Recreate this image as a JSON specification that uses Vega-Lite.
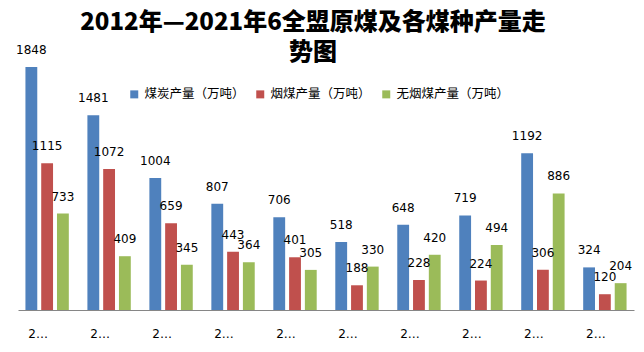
{
  "$schema": "https://vega.github.io/schema/vega-lite/v6.json",
  "width": 616,
  "height": 265,
  "autosize": "none",
  "padding": {"left": 18, "top": 45, "right": 10, "bottom": 42},
  "background": "white",
  "title": {
    "text": ["2012年—2021年6全盟原煤及各煤种产量走", "势图"],
    "font": "Noto Sans CJK SC",
    "fontSize": 24,
    "fontWeight": 900,
    "color": "#000000",
    "lineHeight": 30,
    "anchor": "middle",
    "dx": -13,
    "offset": -21
  },
  "data": {
    "values": [
      {"year": "2012年", "type": "煤炭产量（万吨）", "value": 1848},
      {"year": "2012年", "type": "烟煤产量（万吨）", "value": 1115},
      {"year": "2012年", "type": "无烟煤产量（万吨）", "value": 733},
      {"year": "2013年", "type": "煤炭产量（万吨）", "value": 1481},
      {"year": "2013年", "type": "烟煤产量（万吨）", "value": 1072},
      {"year": "2013年", "type": "无烟煤产量（万吨）", "value": 409},
      {"year": "2014年", "type": "煤炭产量（万吨）", "value": 1004},
      {"year": "2014年", "type": "烟煤产量（万吨）", "value": 659},
      {"year": "2014年", "type": "无烟煤产量（万吨）", "value": 345},
      {"year": "2015年", "type": "煤炭产量（万吨）", "value": 807},
      {"year": "2015年", "type": "烟煤产量（万吨）", "value": 443},
      {"year": "2015年", "type": "无烟煤产量（万吨）", "value": 364},
      {"year": "2016年", "type": "煤炭产量（万吨）", "value": 706},
      {"year": "2016年", "type": "烟煤产量（万吨）", "value": 401},
      {"year": "2016年", "type": "无烟煤产量（万吨）", "value": 305},
      {"year": "2017年", "type": "煤炭产量（万吨）", "value": 518},
      {"year": "2017年", "type": "烟煤产量（万吨）", "value": 188},
      {"year": "2017年", "type": "无烟煤产量（万吨）", "value": 330},
      {"year": "2018年", "type": "煤炭产量（万吨）", "value": 648},
      {"year": "2018年", "type": "烟煤产量（万吨）", "value": 228},
      {"year": "2018年", "type": "无烟煤产量（万吨）", "value": 420},
      {"year": "2019年", "type": "煤炭产量（万吨）", "value": 719},
      {"year": "2019年", "type": "烟煤产量（万吨）", "value": 224},
      {"year": "2019年", "type": "无烟煤产量（万吨）", "value": 494},
      {"year": "2020年", "type": "煤炭产量（万吨）", "value": 1192},
      {"year": "2020年", "type": "烟煤产量（万吨）", "value": 306},
      {"year": "2020年", "type": "无烟煤产量（万吨）", "value": 886},
      {"year": "2021年1-6月", "type": "煤炭产量（万吨）", "value": 324},
      {"year": "2021年1-6月", "type": "烟煤产量（万吨）", "value": 120},
      {"year": "2021年1-6月", "type": "无烟煤产量（万吨）", "value": 204}
    ]
  },
  "encoding": {
    "x": {
      "field": "year",
      "type": "nominal",
      "sort": null,
      "title": null,
      "scale": {"paddingInner": 0.3, "paddingOuter": 0.12},
      "axis": {
        "domainColor": "#868686",
        "domainWidth": 1,
        "ticks": false,
        "labelAngle": 0,
        "labelLimit": 24,
        "labelPadding": 18,
        "labelOffset": -9,
        "labelFont": "DejaVu Sans",
        "labelFontSize": 12,
        "labelColor": "#000000",
        "grid": false
      }
    },
    "xOffset": {
      "field": "type",
      "type": "nominal",
      "sort": ["煤炭产量（万吨）", "烟煤产量（万吨）", "无烟煤产量（万吨）"],
      "scale": {"paddingInner": 0.25, "paddingOuter": 0}
    },
    "y": {
      "field": "value",
      "type": "quantitative",
      "scale": {"domain": [0, 2015], "nice": false},
      "axis": null
    },
    "color": {
      "field": "type",
      "type": "nominal",
      "sort": ["煤炭产量（万吨）", "烟煤产量（万吨）", "无烟煤产量（万吨）"],
      "scale": {"range": ["#4F81BD", "#C0504D", "#9BBB59"]},
      "legend": {
        "title": null,
        "orient": "none",
        "direction": "horizontal",
        "legendX": 110,
        "legendY": 43,
        "symbolType": "square",
        "symbolSize": 64,
        "symbolStrokeWidth": 0,
        "labelFont": "Noto Sans CJK SC",
        "labelFontSize": 12.5,
        "labelColor": "#000000",
        "columnPadding": 9,
        "labelOffset": 4
      }
    }
  },
  "layer": [
    {"mark": {"type": "bar"}},
    {
      "mark": {"type": "text", "dy": -10, "font": "DejaVu Sans", "fontSize": 12, "color": "#000000", "baseline": "bottom"},
      "encoding": {"text": {"field": "value", "type": "quantitative"}, "color": {"value": "#000000"}}
    }
  ],
  "config": {"view": {"stroke": null}}
}
